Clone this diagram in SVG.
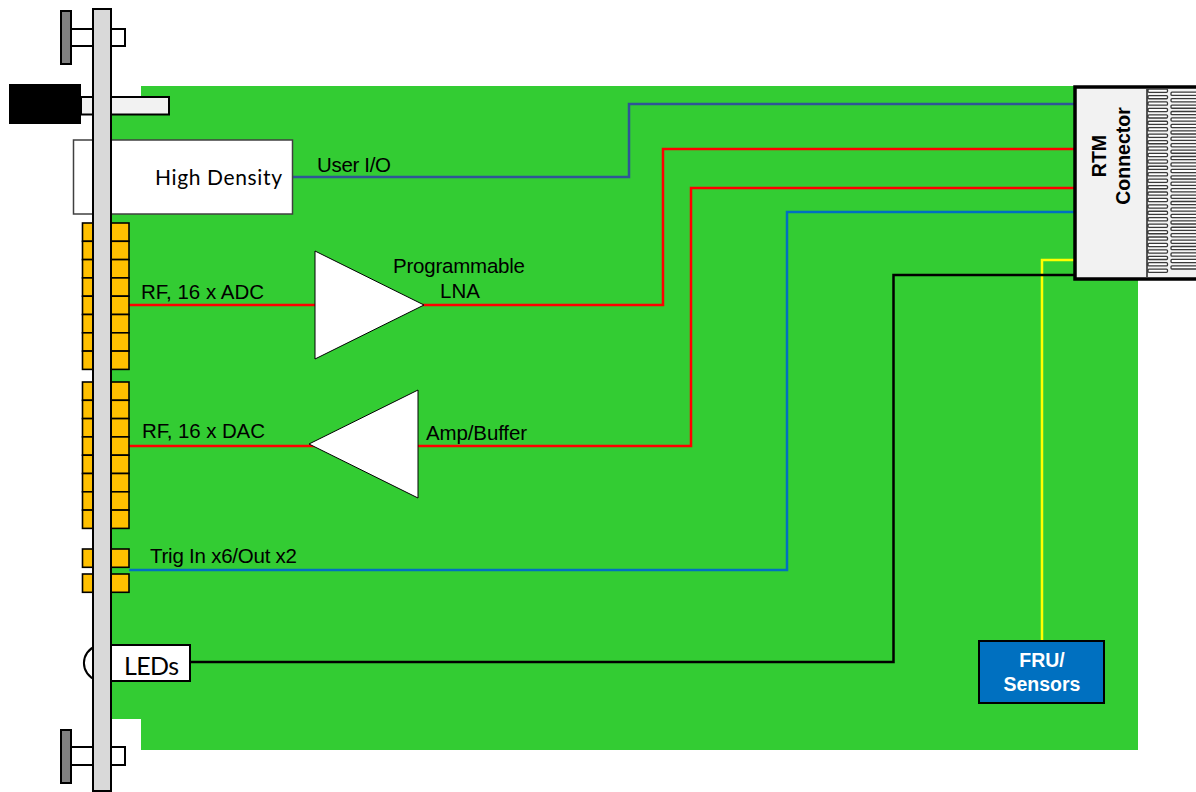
<svg xmlns="http://www.w3.org/2000/svg" width="1196" height="792" viewBox="0 0 1196 792">
<style>
.lbl{font-family:"Liberation Sans",Arial,sans-serif;font-size:20.5px;fill:#000}
.bold{font-family:"Liberation Sans",Arial,sans-serif;font-size:19.5px;font-weight:bold}
.cal{font-family:Lato,"Open Sans",sans-serif;fill:#000}
.wire{fill:none;stroke-width:2.5}
.part{stroke:#000;stroke-width:2}
.gold{fill:#ffc000;stroke:#000;stroke-width:1.6}
.finger{fill:#fff;stroke:#3a3a3a;stroke-width:1.3}
</style>
<defs>
<g id="row"><rect class="gold" x="82.500" y="0" width="11" height="18.300"/><rect class="gold" x="111" y="0" width="18" height="18.300"/></g>
<g id="bank"><use href="#row" y="0"/><use href="#row" y="18.300"/><use href="#row" y="36.600"/><use href="#row" y="54.900"/><use href="#row" y="73.200"/><use href="#row" y="91.500"/><use href="#row" y="109.800"/><use href="#row" y="128.100"/></g>
<rect id="lf" class="finger" x="1148" y="0" width="19.500" height="3.200" rx="1"/>
<rect id="rf" class="finger" x="1171" y="0" width="40" height="3.200" rx="1"/>
<g id="pair"><use href="#lf" y="0"/><use href="#rf" y="3.100"/></g>
<g id="pair4"><use href="#pair" y="0"/><use href="#pair" y="6.430"/><use href="#pair" y="12.860"/><use href="#pair" y="19.290"/></g>
</defs>
<rect width="1196" height="792" fill="#fff"/>
<polygon id="board" fill="#33cc33" points="141,86 1138,86 1138,750 141,750 141,719 111,719 111,115 141,115"/>
<g id="connectors">
<polyline class="wire" stroke="#2f5597" points="292,177 629,177 629,104 1075,104"/>
<polyline class="wire" stroke="#ff0000" points="129,305 663,305 663,149 1075,149"/>
<polyline class="wire" stroke="#ff0000" points="129,446 691,446 691,188 1075,188"/>
<polyline class="wire" stroke="#0070c0" points="129,570 787,570 787,212 1075,212"/>
<polyline class="wire" stroke="#ffff00" points="1042,641 1042,260 1075,260"/>
<polyline class="wire" stroke="#000000" points="190,662 893.500,662 893.500,275 1075,275"/>
</g>
<g id="high-density">
<rect x="73.500" y="140" width="219" height="74" fill="#fff" stroke="#404040" stroke-width="1.500"/>
<text class="cal" x="155" y="185" font-size="21" textLength="127">High Density</text>
</g>
<g id="top-screw">
<rect class="part" x="71" y="29" width="54" height="17" fill="#fff"/>
<rect class="part" x="61" y="11" width="10" height="53" fill="#808080"/>
</g>
<g id="bottom-screw">
<rect class="part" x="71" y="747" width="54" height="18" fill="#fff"/>
<rect class="part" x="61" y="730" width="10" height="53" fill="#808080"/>
</g>
<g id="handle">
<rect class="part" x="81" y="97" width="88" height="17.500" fill="#f2f2f2"/>
<rect x="9" y="84" width="72" height="40" fill="#000"/>
</g>
<g id="rf-adc-ports"><use href="#bank" y="223"/></g>
<g id="rf-dac-ports"><use href="#bank" y="382"/></g>
<g id="trig-ports"><use href="#row" y="549" /><use href="#row" y="574"/></g>
<g id="led-arc"><path d="M96 646A18 18 0 0 0 96 680" fill="#fff" stroke="#000" stroke-width="2"/></g>
<g id="front-panel"><rect class="part" x="93" y="9" width="18" height="782" fill="#d9d9d9"/></g>
<g id="leds">
<rect class="part" x="111" y="645" width="79" height="36" fill="#fff"/>
<text class="cal" x="124" y="675" font-size="25" textLength="55">LEDs</text>
</g>
<g id="lna">
<polygon points="315,251 315,359 424,305" fill="#fff" stroke="#000" stroke-width="1"/>
<text class="lbl" x="393" y="273" textLength="132">Programmable</text>
<text class="lbl" x="440" y="298" textLength="40">LNA</text>
</g>
<g id="amp">
<polygon points="418,390 418,498 309,444" fill="#fff" stroke="#000" stroke-width="1"/>
<text class="lbl" x="426" y="440" textLength="101">Amp/Buffer</text>
</g>
<g id="rtm-connector">
<rect x="1075" y="87" width="130" height="192" fill="#f2f2f2" stroke="#000" stroke-width="3.500"/>
<g id="comb">
<use href="#pair4" y="89.100"/><use href="#pair4" y="114.820"/><use href="#pair4" y="140.540"/><use href="#pair4" y="166.260"/><use href="#pair4" y="191.980"/><use href="#pair4" y="217.700"/><use href="#pair4" y="243.420"/>
<use href="#lf" y="269.140"/>
</g>
<line x1="1147" y1="89" x2="1147" y2="277" stroke="#222" stroke-width="1.500"/>
<text class="bold" transform="translate(1106,156) rotate(-90)" text-anchor="middle">RTM</text>
<text class="bold" transform="translate(1130,156) rotate(-90)" text-anchor="middle">Connector</text>
</g>
<g id="fru">
<rect class="part" x="979" y="641" width="125" height="62" fill="#0070c0"/>
<text class="bold" x="1042" y="667" text-anchor="middle" fill="#fff">FRU/</text>
<text class="bold" x="1042" y="691" text-anchor="middle" fill="#fff">Sensors</text>
</g>
<g id="labels">
<text class="lbl" x="317" y="172" textLength="74">User I/O</text>
<text class="lbl" x="141" y="299" textLength="123">RF, 16 x ADC</text>
<text class="lbl" x="142" y="438" textLength="123">RF, 16 x DAC</text>
<text class="lbl" x="150" y="563" textLength="147">Trig In x6/Out x2</text>
</g>
</svg>
